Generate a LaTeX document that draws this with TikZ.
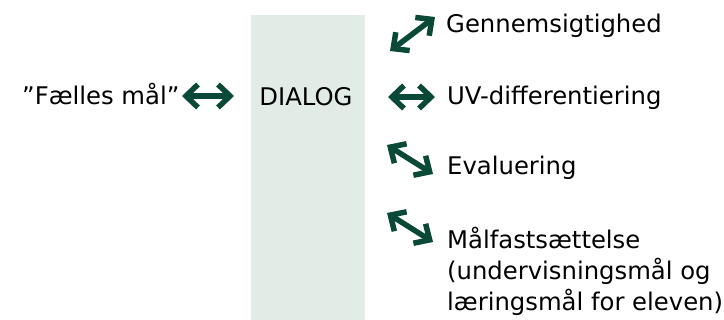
\documentclass[tikz,border=0pt]{standalone}
\usepackage{fontspec}
\setmainfont{DejaVu Sans}
\usetikzlibrary{arrows.meta}
\definecolor{arrowgreen}{RGB}{10,72,56}
\definecolor{boxfill}{RGB}{225,236,231}
\begin{document}
\begin{tikzpicture}[x=1pt,y=-1pt,
  lbl/.style={font=\fontsize{24.3}{31}\selectfont, inner sep=0pt, text=black},
  dbl/.style={draw=arrowgreen, line width=5.5pt, line join=miter,
    {Straight Barb[length=12pt,width=23pt]}-{Straight Barb[length=12pt,width=23pt]}}]
\useasboundingbox (0,0) rectangle (724,320);
\node[fill=boxfill, minimum width=114pt, minimum height=305pt, anchor=north west, inner sep=0pt] (box) at (251,15) {};
\node[lbl, anchor=base] (dialog) at (306,106) {DIALOG};
\node[lbl, anchor=base west] (fm) at (22,105) {”Fælles mål”};
\coordinate (a1) at (182,96);
\coordinate (a2) at (234,96);
\draw[dbl] (a1) -- (a2);
\node[lbl, anchor=base west] (gen) at (446,33) {Gennemsigtighed};
\node[lbl, anchor=base west] (uv) at (447,105) {UV-differentiering};
\node[lbl, anchor=base west] (ev) at (447,175) {Evaluering};
\node[lbl, anchor=base west, align=left] (mal) at (447,311) {Målfastsættelse\\(undervisningsmål og\\læringsmål for eleven)};
\coordinate (g1) at (390,51);
\coordinate (g2) at (435,17);
\coordinate (u1) at (388,97);
\coordinate (u2) at (435,97);
\coordinate (e1) at (387,145);
\coordinate (e2) at (433,174);
\coordinate (m1) at (387,213);
\coordinate (m2) at (433,242);
\draw[dbl] (g1) -- (g2);
\draw[dbl] (u1) -- (u2);
\draw[dbl] (e1) -- (e2);
\draw[dbl] (m1) -- (m2);
\end{tikzpicture}
\end{document}
